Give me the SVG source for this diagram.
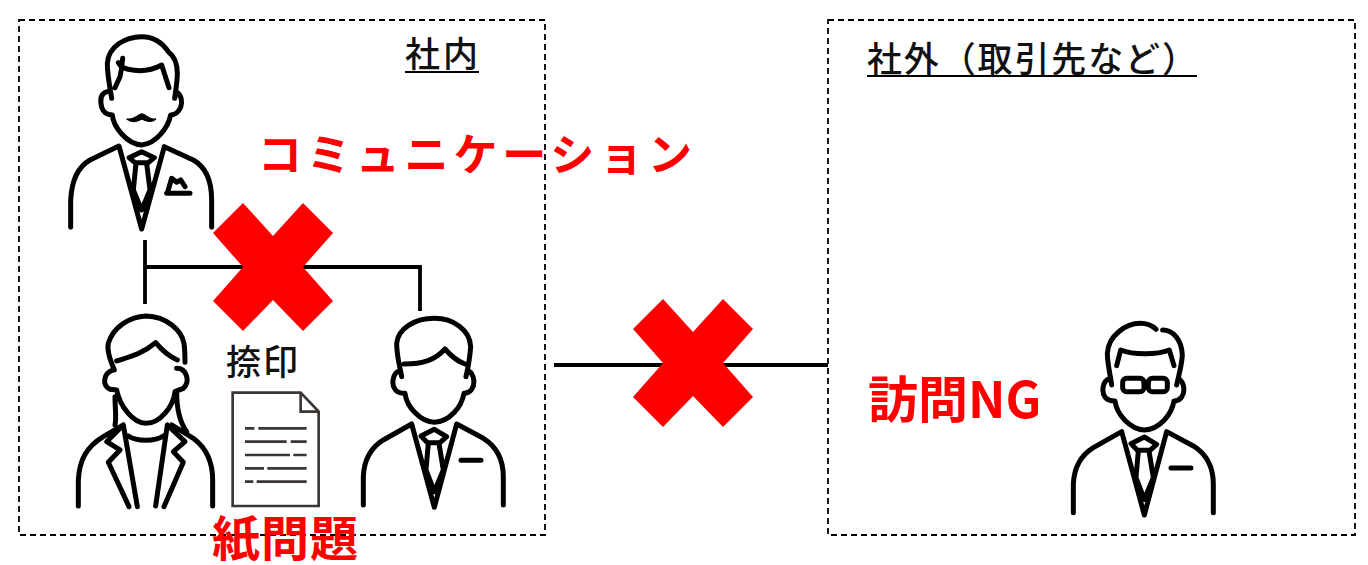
<svg xmlns="http://www.w3.org/2000/svg" width="1368" height="565" viewBox="0 0 1368 565">
<style>
.box{fill:none;stroke:#000;stroke-width:1.8;stroke-dasharray:6 4}
.ln{fill:none;stroke:#000;stroke-width:3.8}
.ul{fill:none;stroke:#000;stroke-width:2.2}
.ic{fill:none;stroke:#000;stroke-width:15;stroke-linecap:round;stroke-linejoin:round}
.doc{fill:none;stroke:#3b3533;stroke-width:8}
.x{fill:#f00}
.t{font-family:"Noto Sans CJK JP",sans-serif;font-weight:500;font-size:35px;fill:#111}
.r{font-family:"Noto Sans CJK JP",sans-serif;font-weight:700;fill:#f00}
</style>
<rect width="1368" height="565" fill="#fff"/>
<g id="box-internal"><rect class="box" x="19" y="20" width="526" height="515"/></g>
<g id="box-external"><rect class="box" x="828" y="20" width="527" height="515"/></g>
<g id="connectors">
<path class="ln" d="M145 240V304M145 267H420V311M554 365H828"/>
</g>
<g id="boss" transform="translate(50 20) scale(.3333)">
<path class="ic" d="M185 235C180 200 172 170 172 130C175 80 225 50 275 50C320 50 345 80 355 95C375 110 382 130 382 160C382 185 378 205 374 235M205 128C215 150 280 165 335 135L357 203M218 115C215 140 215 150 210 170L195 203M172 215C150 220 150 240 155 262C160 278 172 285 187 285C190 320 230 372 275 375C320 372 355 320 362 285C375 285 385 278 392 262C398 245 395 225 378 215M62 622V540C65 480 85 440 120 420L207 378L275 627L343 380L430 420C465 440 485 480 485 540V622M237 413L275 395L313 413L295 428H255ZM258 430L250 510L275 570L300 510L290 430M352 520L365 475L380 487L392 480L405 500M350 520H420"/>
<path fill="#000" d="M230 297C250 302 262 285 275 282C290 285 300 302 318 297C305 308 290 305 275 297C262 305 245 308 230 297Z" stroke="#000" stroke-width="4"/>
</g>
<g id="woman" transform="translate(60 300) scale(.3333)">
<path class="ic" d="M163 210C150 180 140 150 145 130C160 80 210 50 258 48C320 50 365 90 372 130C375 150 375 170 375 187M170 183C210 170 250 160 287 128C305 150 330 170 352 180M160 210C130 220 125 255 150 268L170 270C180 320 220 370 258 370C300 370 340 320 345 275L370 265C392 245 380 205 350 205M165 290C165 330 170 350 165 375M350 275C350 320 355 360 380 395M55 618V540C58 480 80 440 130 410L190 375L232 620M205 408C230 425 285 425 310 408M322 375L287 618M190 375L140 425L180 450L145 487L207 620M322 375L375 425L340 455L370 487L312 620M335 375L400 415C440 445 458 490 458 540V618"/>
</g>
<g id="document" transform="translate(60 300) scale(.3333)">
<path class="doc" d="M518 278H722L776 335V618H518ZM722 278V335H776M555 385H583M595 385H740M555 425H680M692 425H740M555 465H690M700 465H740M555 505H612M622 505H740M555 545H580M590 545H740"/>
</g>
<g id="employee" transform="translate(340 300) scale(.3333)">
<path class="ic" d="M185 230C180 200 170 170 170 130C175 85 225 55 283 55C340 55 390 90 392 140C390 170 385 200 378 230M192 192C250 192 285 180 315 147C335 170 355 185 375 192M180 212C155 220 155 255 165 268C172 278 185 280 195 280C200 320 240 365 283 367C330 365 365 320 372 280C378 280 388 278 395 268C405 255 405 225 385 212M70 615V530C72 480 90 445 130 420L215 372L283 622L350 372L430 415C470 440 490 480 490 530V615M243 408L283 388L320 410L300 428H262ZM265 430L258 510L283 575L310 510L297 430M363 481H423"/>
</g>
<g id="client" transform="translate(1050 300) scale(.3333)">
<path class="ic" d="M185 255C180 220 172 190 172 160C175 105 230 70 270 70C295 70 310 80 318 88M338 90C370 90 395 120 397 165C395 200 385 230 380 255M200 197L212 150C250 165 320 165 358 150L372 197M180 235C155 243 155 278 165 291C172 301 185 303 195 303C200 343 240 388 283 390C330 388 365 343 372 303C378 303 388 301 395 291C405 278 405 248 385 235M282 247H295M70 638V553C72 503 90 468 130 443L215 395L283 645L350 395L430 438C470 463 490 503 490 553V638M243 431L283 411L320 433L300 451H262ZM265 453L258 533L283 598L310 533L297 453M363 504H423"/>
<rect class="ic" x="218" y="235" width="64" height="40" rx="12"/>
<rect class="ic" x="295" y="235" width="57" height="40" rx="12"/>
</g>
<g id="cross-1"><polygon class="x" points="273,236 303,203 333,233 303,267 333,301 303,331 273,300 243,331 213,301 243,267 213,233 243,203"/></g>
<g id="cross-2"><polygon class="x" transform="translate(420 96)" points="273,236 303,203 333,233 303,267 333,301 303,331 273,300 243,331 213,301 243,267 213,233 243,203"/></g>
<g id="labels">
<text class="t" x="405" y="67" textLength="73">社内</text>
<path class="ul" d="M405 72H479"/>
<text class="t" x="867" y="72" textLength="330">社外（取引先など）</text>
<path class="ul" d="M867 76H1197"/>
<text class="t" x="226" y="375" textLength="72">捺印</text>
<text class="r" x="258" y="171" font-size="44" textLength="434">コミュニケーション</text>
<text class="r" x="212" y="556" font-size="48" textLength="146">紙問題</text>
<text class="r" x="868" y="418" font-size="50">訪問NG</text>
</g>
</svg>
